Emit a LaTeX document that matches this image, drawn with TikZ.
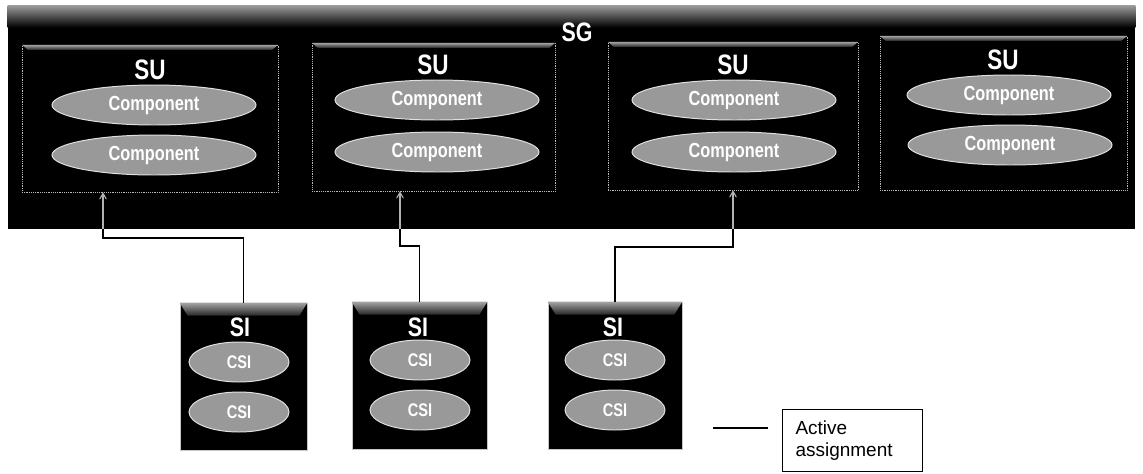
\documentclass[tikz,border=0pt]{standalone}
\usepackage{fontspec}
\setmainfont{Liberation Sans}
\newfontfamily\narrowfont[FakeStretch=0.8]{Liberation Sans}
\usetikzlibrary{positioning,arrows,shapes.geometric}

\begin{document}
\begin{tikzpicture}[scale=0.25]
		\tikzstyle{every node}+=[inner sep=0pt]
		\tikzstyle{grp}=[rectangle, fill=black, draw=gray!55, densely dotted, line width=0.3pt]
		\tikzstyle{lbl}=[text=white, font=\narrowfont\bfseries\fontsize{20}{22}\selectfont]
		\tikzstyle{comp}=[ellipse, fill=black!40, draw=black!12, line width=0.7pt, minimum width=5.1cm, minimum height=1.0cm, text=white, font=\narrowfont\bfseries\fontsize{14.5}{16}\selectfont]
		\tikzstyle{csi}=[comp, minimum width=2.5cm, font=\narrowfont\bfseries\fontsize{13}{15}\selectfont]
		\tikzstyle{sibox}=[rectangle, fill=black, draw=gray!45, line width=0.5pt, minimum height=3.68cm]
		\tikzstyle{band}=[top color=black!35, bottom color=black!85]
		\tikzstyle{assign}=[black, line width=0.9pt]
		\tikzstyle{assignin}=[black!30, line width=0.8pt, ->, >=angle 60]
		\useasboundingbox (0,0) rectangle (114.3,-47.3);
		% service group (shifts below are in scaled units: 4 = 1cm)
		\node [rectangle, fill=black, minimum width=28.18cm, minimum height=5.58cm] (sg) at (57.15,-11.75) {};
		\shade [top color=black!40, bottom color=black] (sg.north west) rectangle ([yshift=-2.2cm]sg.north east);
		\draw (57.7,-3.2) node [lbl, font=\narrowfont\bfseries\fontsize{19}{21}\selectfont] (sglbl) {SG};
		% service units
		\node [grp, minimum width=6.4cm, minimum height=3.675cm] (su1) at (15.0,-11.85) {};
		\node [grp, minimum width=6.08cm, minimum height=3.7cm] (su2) at (43.35,-11.7) {};
		\node [grp, minimum width=6.25cm, minimum height=3.7cm] (su3) at (73.3,-11.6) {};
		\node [grp, minimum width=6.18cm, minimum height=3.85cm] (su4) at (100.35,-11.3) {};
		\shade [band] (su1.north west) -- (su1.north east) -- ([xshift=-6mm,yshift=-5mm]su1.north east) -- ([xshift=6mm,yshift=-5mm]su1.north west) -- cycle;
		\shade [band] (su2.north west) -- (su2.north east) -- ([xshift=-6mm,yshift=-5mm]su2.north east) -- ([xshift=6mm,yshift=-5mm]su2.north west) -- cycle;
		\shade [band] (su3.north west) -- (su3.north east) -- ([xshift=-6mm,yshift=-5mm]su3.north east) -- ([xshift=6mm,yshift=-5mm]su3.north west) -- cycle;
		\shade [band] (su4.north west) -- (su4.north east) -- ([xshift=-6mm,yshift=-5mm]su4.north east) -- ([xshift=6mm,yshift=-5mm]su4.north west) -- cycle;
		\draw (15.0,-7.0) node [lbl] (su1lbl) {SU};
		\draw (15.4,-10.5) node [comp] (su1a) {Component};
		\draw (15.4,-15.5) node [comp] (su1b) {Component};
		\draw (43.3,-6.5) node [lbl] (su2lbl) {SU};
		\draw (43.7,-10.0) node [comp] (su2a) {Component};
		\draw (43.7,-15.2) node [comp] (su2b) {Component};
		\draw (73.3,-6.5) node [lbl] (su3lbl) {SU};
		\draw (73.4,-10.0) node [comp] (su3a) {Component};
		\draw (73.4,-15.2) node [comp] (su3b) {Component};
		\draw (100.3,-6.0) node [lbl] (su4lbl) {SU};
		\draw (100.9,-9.5) node [comp] (su4a) {Component};
		\draw (101.0,-14.5) node [comp] (su4b) {Component};
		% service instances
		\node [sibox, minimum width=3.18cm] (si1) at (24.35,-37.65) {};
		\node [sibox, minimum width=3.38cm] (si2) at (41.95,-37.55) {};
		\node [sibox, minimum width=3.35cm] (si3) at (61.5,-37.55) {};
		\shade [band] (si1.north west) -- (si1.north east) -- ([xshift=-8mm,yshift=-13mm]si1.north east) -- ([xshift=8mm,yshift=-13mm]si1.north west) -- cycle;
		\shade [band] (si2.north west) -- (si2.north east) -- ([xshift=-8mm,yshift=-13mm]si2.north east) -- ([xshift=8mm,yshift=-13mm]si2.north west) -- cycle;
		\shade [band] (si3.north west) -- (si3.north east) -- ([xshift=-8mm,yshift=-13mm]si3.north east) -- ([xshift=8mm,yshift=-13mm]si3.north west) -- cycle;
		\draw (24.0,-32.7) node [lbl, font=\narrowfont\bfseries\fontsize{19}{21}\selectfont] (si1lbl) {SI};
		\draw (23.9,-36.2) node [csi] (si1a) {CSI};
		\draw (23.9,-41.2) node [csi] (si1b) {CSI};
		\draw (41.8,-32.7) node [lbl, font=\narrowfont\bfseries\fontsize{19}{21}\selectfont] (si2lbl) {SI};
		\draw (42.0,-36.0) node [csi] (si2a) {CSI};
		\draw (42.0,-41.0) node [csi] (si2b) {CSI};
		\draw (61.3,-32.7) node [lbl, font=\narrowfont\bfseries\fontsize{19}{21}\selectfont] (si3lbl) {SI};
		\draw (61.5,-36.0) node [csi] (si3a) {CSI};
		\draw (61.5,-41.0) node [csi] (si3b) {CSI};
		% active assignments
		\coordinate (k1) at (10.3,-23.8);
		\coordinate (k2) at (40.0,-24.6);
		\coordinate (k3) at (73.3,-24.7);
		\draw [assign] (si1.north) |- (k1) -- (k1 |- sg.south);
		\draw [assignin] (k1 |- sg.south) -- (k1 |- su1.south);
		\draw [assign] (si2.north) |- (k2) -- (k2 |- sg.south);
		\draw [assignin] (k2 |- sg.south) -- (k2 |- su2.south);
		\draw [assign] (si3.north) |- (k3) -- (k3 |- sg.south);
		\draw [assignin] (k3 |- sg.south) -- (k3 |- su3.south);
		% legend
		\node [draw, line width=0.5pt, anchor=north west, minimum height=1.55cm, text width=2.84cm, inner xsep=0.33cm, align=left, font=\fontsize{13.5}{15.6}\selectfont] (leg) at (78.2,-40.9) {Active\\assignment};
		\coordinate (l0) at (71.3,-42.8);
		\coordinate (l1) at (76.8,-42.8);
		\draw [assign] (l0) -- (l1);
\end{tikzpicture}
\end{document}
